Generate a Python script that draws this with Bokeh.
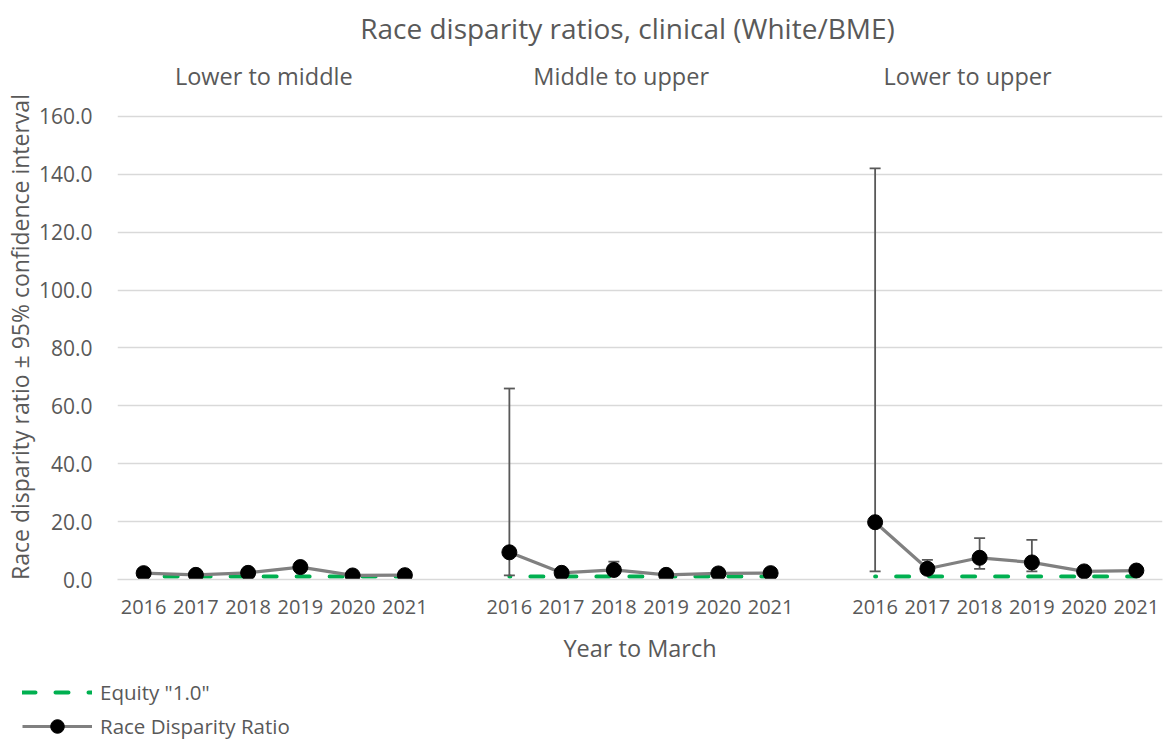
import math
from bokeh.plotting import figure
from bokeh.layouts import column
from bokeh.models import Range1d, FixedTicker, NumeralTickFormatter, Label, Legend, LegendItem
from bokeh.embed import file_html
from bokeh.resources import INLINE

# ---------------- data ----------------
title_text = "Race disparity ratios, clinical (White/BME)"
panels = ["Lower to middle", "Middle to upper", "Lower to upper"]
years = ["2016", "2017", "2018", "2019", "2020", "2021"]

ratio_lower_middle = [2.2, 1.6, 2.3, 4.3, 1.4, 1.5]
low_lower_middle = [1.4, 1.0, 1.5, 3.2, 0.9, 1.0]
up_lower_middle = [3.3, 2.5, 3.4, 5.6, 2.2, 2.3]

ratio_middle_upper = [9.4, 2.3, 3.3, 1.6, 2.1, 2.2]
low_middle_upper = [1.4, 1.3, 1.7, 1.0, 1.3, 1.4]
up_middle_upper = [66.0, 3.5, 6.2, 2.6, 3.2, 3.3]

ratio_lower_upper = [19.8, 3.7, 7.5, 5.9, 2.8, 3.1]
low_lower_upper = [2.8, 2.0, 3.7, 2.8, 1.8, 2.0]
up_lower_upper = [142.1, 6.8, 14.3, 13.7, 3.9, 4.3]

equity_value = 1.0
y_ticks = [0, 20, 40, 60, 80, 100, 120, 140, 160]

ratios = [ratio_lower_middle, ratio_middle_upper, ratio_lower_upper]
lows = [low_lower_middle, low_middle_upper, low_lower_upper]
ups = [up_lower_middle, up_middle_upper, up_lower_upper]

# ---------------- styling ----------------
FONT = "Open Sans"
TXT = "#595959"
GRID = "#D9D9D9"
GREEN = "#00B050"
LINEGRAY = "#808080"
ERRGRAY = "#595959"
W = 1164
BL, BR = 117, 2
HEAD_H = 94
MAIN_H = 574
LEG_H = 742 - HEAD_H - MAIN_H

slot = len(years) + 1
n_slots = slot * len(panels) - 1

xs_all, ratio_all, low_all, up_all = [], [], [], []
line_x, line_y, eq_y = [], [], []
tick_pos, tick_lab = [], []
for k in range(len(panels)):
    for j, yr in enumerate(years):
        xpos = k * slot + j
        xs_all.append(xpos)
        ratio_all.append(ratios[k][j])
        low_all.append(lows[k][j])
        up_all.append(ups[k][j])
        line_x.append(xpos)
        line_y.append(ratios[k][j])
        eq_y.append(equity_value)
        tick_pos.append(xpos)
        tick_lab.append(yr)
    if k < len(panels) - 1:
        line_x.append(k * slot + len(years))
        line_y.append(math.nan)
        eq_y.append(math.nan)

xr = Range1d(-0.5, n_slots - 0.5)

# ---------------- header (title + panel labels) ----------------
head = figure(width=W, height=HEAD_H, output_backend="svg", toolbar_location=None,
              x_range=xr, y_range=Range1d(0, HEAD_H),
              min_border_left=BL, min_border_right=BR, min_border_top=0, min_border_bottom=0)
head.outline_line_color = None
head.xgrid.grid_line_color = None
head.ygrid.grid_line_color = None
head.xaxis.visible = False
head.yaxis.visible = False
title_x = 9.26
head.add_layout(Label(x=title_x, y=HEAD_H - 27, text=title_text, text_font=FONT,
                      text_font_size="28px", text_color=TXT, text_align="center",
                      text_baseline="middle"))
panel_label_x = [2.30, 9.14, 15.77]
for name, lx in zip(panels, panel_label_x):
    head.add_layout(Label(x=lx, y=HEAD_H - 75, text=name, text_font=FONT, text_font_size="23.5px",
                          text_color=TXT, text_align="center", text_baseline="middle"))

# ---------------- main plot ----------------
p = figure(width=W, height=MAIN_H, output_backend="svg", toolbar_location=None,
           x_range=xr, y_range=Range1d(0, 167.6),
           min_border_left=BL, min_border_right=BR, min_border_top=0,
           min_border_bottom=MAIN_H - 485)
p.outline_line_color = None

p.xgrid.grid_line_color = None
p.ygrid.grid_line_color = GRID
p.ygrid.grid_line_width = 1.5

p.yaxis.ticker = FixedTicker(ticks=y_ticks)
p.yaxis.formatter = NumeralTickFormatter(format="0.0")
p.yaxis.axis_line_color = None
p.yaxis.major_tick_line_color = None
p.yaxis.minor_tick_line_color = None
p.yaxis.major_label_text_font = FONT
p.yaxis.major_label_text_font_size = "21px"
p.yaxis.major_label_text_color = TXT
p.yaxis.major_label_standoff = 19
p.yaxis.axis_label = "Race disparity ratio \u00b1 95% confidence interval"
p.yaxis.axis_label_text_font = FONT
p.yaxis.axis_label_text_font_style = "normal"
p.yaxis.axis_label_text_font_size = "23px"
p.yaxis.axis_label_text_color = TXT
p.yaxis.axis_label_standoff = 0

p.xaxis.ticker = FixedTicker(ticks=tick_pos)
p.xaxis.major_label_overrides = {pos: lab for pos, lab in zip(tick_pos, tick_lab)}
p.xaxis.axis_line_color = GRID
p.xaxis.axis_line_width = 1.5
p.xaxis.major_tick_line_color = None
p.xaxis.minor_tick_line_color = None
p.xaxis.major_label_text_font = FONT
p.xaxis.major_label_text_font_size = "20px"
p.xaxis.major_label_text_color = TXT
p.xaxis.major_label_standoff = 14
p.xaxis.axis_label = "Year to March"
p.xaxis.axis_label_text_font = FONT
p.xaxis.axis_label_text_font_style = "normal"
p.xaxis.axis_label_text_font_size = "23.5px"
p.xaxis.axis_label_text_color = TXT
p.xaxis.axis_label_standoff = 15

# equity line
p.line(line_x, eq_y, line_color=GREEN, line_width=4, line_dash="13 20",
       line_dash_offset=12, line_cap="round")

# error bars
p.segment(x0=xs_all, y0=low_all, x1=xs_all, y1=up_all, line_color=ERRGRAY, line_width=1.8)
p.scatter(xs_all, up_all, marker="dash", size=11, line_color=ERRGRAY, line_width=1.8)
p.scatter(xs_all, low_all, marker="dash", size=11, line_color=ERRGRAY, line_width=1.8)

# ratio line + markers
p.line(line_x, line_y, line_color=LINEGRAY, line_width=3.2)
p.scatter(xs_all, ratio_all, marker="circle", size=15, fill_color="black", line_color="black")

# ---------------- legend strip (same series, view window placed away from the data) ----------------
leg = figure(width=W, height=LEG_H, output_backend="svg", toolbar_location=None,
             x_range=Range1d(0, 1), y_range=Range1d(1000, 1001),
             min_border_left=0, min_border_right=0, min_border_top=0, min_border_bottom=0)
if "frame_align" in leg.properties():
    leg.frame_align = False
leg.outline_line_color = None
leg.xgrid.grid_line_color = None
leg.ygrid.grid_line_color = None
leg.xaxis.visible = False
leg.yaxis.visible = False
eq_leg = leg.line(line_x, eq_y, line_color=GREEN, line_width=4, line_dash="13 20", line_cap="round")
r_leg_line = leg.line(line_x, line_y, line_color=LINEGRAY, line_width=3.2)
r_leg_mark = leg.scatter(xs_all, ratio_all, marker="circle", size=15, fill_color="black",
                         line_color="black")
legend = Legend(items=[LegendItem(label='Equity "1.0"', renderers=[eq_leg]),
                       LegendItem(label="Race Disparity Ratio", renderers=[r_leg_line, r_leg_mark])],
                location=(22, -1), orientation="vertical", glyph_width=70, glyph_height=34,
                label_height=34, label_standoff=8, spacing=0, padding=0, margin=0,
                border_line_color=None, background_fill_alpha=0,
                label_text_font=FONT, label_text_font_size="20.5px", label_text_color=TXT)
leg.add_layout(legend, "center")

layout = column(head, p, leg, spacing=0)
open("out.html", "w").write(file_html(layout, INLINE))
